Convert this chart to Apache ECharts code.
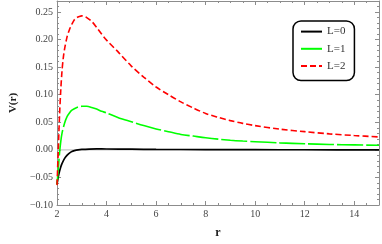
<!DOCTYPE html>
<html>
<head>
<meta charset="utf-8">
<script src="https://cdn.jsdelivr.net/npm/echarts@6/dist/echarts.min.js"></script>
<style>html,body{margin:0;padding:0;background:#fff}#c{width:382px;height:244px}</style>
</head>
<body>
<div id="c"></div>
<script>
// r values and potentials
const rL0 = [2.0, 2.05, 2.1, 2.15, 2.2, 2.3, 2.4, 2.5, 2.6, 2.7, 2.85, 3.0, 3.3, 3.6, 4.0, 5.0, 6.0, 8.0, 10.0, 12.0, 15.0];
const vL0 = [-0.062, -0.049, -0.039, -0.031, -0.025, -0.016, -0.010, -0.006, -0.003, -0.0015, 0.0, 0.0008, 0.0015, 0.0017, 0.0016, 0.0012, 0.0009, 0.0005, 0.0003, 0.0002, 0.0001];

const rL1 = [2.0, 2.05, 2.1, 2.15, 2.2, 2.3, 2.4, 2.5, 2.6, 2.8, 3.0, 3.2, 3.4, 3.6, 3.8, 4.0, 4.5, 5.0, 5.5, 6.0, 6.5, 7.0, 7.5, 8.0, 8.5, 9.0, 9.5, 10, 11, 12, 13, 14, 15];
const vL1 = [-0.063, -0.035, -0.006, 0.015, 0.030, 0.048, 0.060, 0.067, 0.072, 0.077, 0.079, 0.079, 0.077, 0.074, 0.070, 0.067, 0.058, 0.051, 0.044, 0.038, 0.033, 0.028, 0.025, 0.022, 0.0195, 0.0175, 0.016, 0.0148, 0.0127, 0.011, 0.0098, 0.009, 0.0083];

const rL2 = [2.0, 2.05, 2.1, 2.15, 2.2, 2.25, 2.3, 2.4, 2.5, 2.6, 2.7, 2.8, 2.9, 3.0, 3.1, 3.2, 3.4, 3.6, 3.8, 4.0, 4.5, 5.0, 5.5, 6.0, 6.5, 7.0, 7.5, 8.0, 8.5, 9.0, 9.5, 10, 11, 12, 13, 14, 15];
const vL2 = [-0.064, 0.0, 0.062, 0.108, 0.143, 0.166, 0.182, 0.204, 0.218, 0.228, 0.236, 0.240, 0.242, 0.243, 0.242, 0.240, 0.233, 0.222, 0.210, 0.199, 0.176, 0.152, 0.132, 0.114, 0.100, 0.087, 0.076, 0.066, 0.059, 0.053, 0.048, 0.044, 0.0375, 0.033, 0.029, 0.026, 0.0235];

const seriesNames = ['L=0', 'L=1', 'L=2'];
const xTicks = [2, 4, 6, 8, 10, 12, 14];
const yTicks = [-0.10, -0.05, 0.00, 0.05, 0.10, 0.15, 0.20, 0.25];

const zip = (a, b) => a.map((x, i) => [x, b[i]]);
const serif = '"Liberation Serif", "DejaVu Serif", serif';
const frameColor = '#8c8c8c';
const labelColor = '#444';

const chart = echarts.init(document.getElementById('c'), null, {renderer: 'canvas'});

function axisCommon(extra) {
  return Object.assign({
    axisLine: {show: true, onZero: false, lineStyle: {color: frameColor, width: 1}},
    axisTick: {show: true, inside: true, length: 4, lineStyle: {color: frameColor}},
    minorTick: {show: true, length: 2, lineStyle: {color: frameColor}},
    splitLine: {show: false},
    minorSplitLine: {show: false}
  }, extra);
}

chart.setOption({
  animation: false,
  backgroundColor: '#fff',
  grid: {left: 44, right: 1, top: 1, bottom: 36, containLabel: false},
  legend: {
    data: seriesNames,
    orient: 'vertical',
    left: 293, top: 21,
    padding: [5, 9, 9, 7],
    itemGap: 6,
    itemWidth: 21, itemHeight: 14,
    itemStyle: {color: 'rgba(0,0,0,0)', borderWidth: 0, opacity: 0},
    borderColor: '#000', borderWidth: 1.5, borderRadius: 8,
    textStyle: {fontFamily: serif, fontSize: 11, color: '#333'}
  },
  xAxis: [
    axisCommon({
      type: 'value', min: 2, max: 15, interval: 2, position: 'bottom',
      minorTick: {show: true, splitNumber: 4, length: 2, lineStyle: {color: frameColor}},
      axisLabel: {show: true, color: labelColor, fontFamily: serif, fontSize: 10, margin: 4,
        formatter: v => xTicks.includes(v) ? String(v) : ''},
      name: 'r', nameLocation: 'middle', nameGap: 22,
      nameTextStyle: {fontFamily: serif, fontWeight: 'bold', fontSize: 12, color: '#222'}
    }),
    axisCommon({
      type: 'value', min: 2, max: 15, interval: 2, position: 'top',
      minorTick: {show: true, splitNumber: 4, length: 2, lineStyle: {color: frameColor}},
      axisLabel: {show: false}
    })
  ],
  yAxis: [
    axisCommon({
      type: 'value', min: -0.10, max: 0.27, interval: 0.05, position: 'left',
      minorTick: {show: true, splitNumber: 5, length: 2, lineStyle: {color: frameColor}},
      axisLabel: {show: true, color: labelColor, fontFamily: serif, fontSize: 10, margin: 4,
        formatter: v => {
          const hit = yTicks.find(t => Math.abs(t - v) < 1e-9);
          return hit === undefined ? '' : hit.toFixed(2).replace('-', '\u2212');
        }},
      name: 'V(r)', nameLocation: 'middle', nameGap: 32, nameRotate: 90,
      nameTextStyle: {fontFamily: serif, fontWeight: 'bold', fontSize: 11, color: '#222'}
    }),
    axisCommon({
      type: 'value', min: -0.10, max: 0.27, interval: 0.05, position: 'right',
      minorTick: {show: true, splitNumber: 5, length: 2, lineStyle: {color: frameColor}},
      axisLabel: {show: false}
    })
  ],
  series: [
    {
      name: 'zero', type: 'line', data: [[2, 0], [15, 0]], symbol: 'none', silent: true,
      lineStyle: {color: '#c8c8c8', width: 1.2}, z: 1
    },
    {
      name: 'L=0', type: 'line', data: zip(rL0, vL0), smooth: 0.3, symbol: 'none', showSymbol: false,
      lineStyle: {color: '#000', width: 1.7}, itemStyle: {color: '#000'}, z: 3
    },
    {
      name: 'L=1', type: 'line', data: zip(rL1, vL1), smooth: 0.3, symbol: 'none', showSymbol: false,
      lineStyle: {color: '#00ff00', width: 1.6, type: [26, 3]}, itemStyle: {color: '#00ff00'}, z: 3
    },
    {
      name: 'L=2', type: 'line', data: zip(rL2, vL2), smooth: 0.3, symbol: 'none', showSymbol: false,
      lineStyle: {color: '#ff0000', width: 1.6, type: [6, 3]}, itemStyle: {color: '#ff0000'}, z: 3
    }
  ]
});
</script>
</body>
</html>
